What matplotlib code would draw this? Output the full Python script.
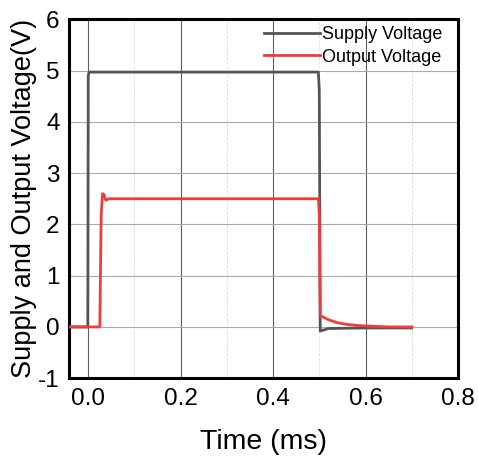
import matplotlib.pyplot as plt
from matplotlib.ticker import MultipleLocator

plt.rcParams['font.family'] = ['Liberation Sans', 'DejaVu Sans']
plt.rcParams['axes.unicode_minus'] = False

# breakpoints (time in ms, voltage in V)
supply_t = [-0.04, -0.001, 0.0, 0.002, 0.1, 0.2, 0.3, 0.4, 0.498, 0.5, 0.502, 0.52, 0.6, 0.7]
supply_v = [0.0, 0.0, 4.9, 4.97, 4.97, 4.97, 4.97, 4.97, 4.97, 4.6, -0.08, -0.03, -0.02, -0.02]

output_t = [-0.04, 0.025, 0.028, 0.031, 0.034, 0.038, 0.045, 0.1, 0.2, 0.3, 0.4, 0.498, 0.5, 0.502,
            0.52, 0.54, 0.56, 0.58, 0.6, 0.65, 0.7]
output_v = [0.0, 0.0, 2.2, 2.6, 2.58, 2.47, 2.5, 2.5, 2.5, 2.5, 2.5, 2.5, 2.2, 0.22,
            0.14, 0.08, 0.05, 0.03, 0.02, 0.0, 0.0]

fig, ax = plt.subplots(figsize=(4.78, 4.59), dpi=100)
fig.subplots_adjust(left=0.145, right=0.958, top=0.958, bottom=0.176)

ax.plot(supply_t, supply_v, color='#555555', lw=2, label='Supply Voltage', zorder=3)
ax.plot(output_t, output_v, color='#ef3b3b', lw=2, label='Output Voltage', zorder=4)

ax.set_xlim(-0.041, 0.8)
ax.set_ylim(-1, 6)
ax.xaxis.set_major_locator(MultipleLocator(0.2))
ax.xaxis.set_minor_locator(MultipleLocator(0.1))
ax.yaxis.set_major_locator(MultipleLocator(1))
ax.set_xticks([0.0, 0.2, 0.4, 0.6, 0.8])
ax.set_xticklabels(['0.0', '0.2', '0.4', '0.6', '0.8'])

ax.grid(axis='x', which='major', color='#606060', lw=0.8)
ax.grid(axis='x', which='minor', color='#dddddd', lw=0.6, ls='--')
ax.grid(axis='y', which='major', color='#aaaaaa', lw=0.8)
ax.tick_params(which='both', length=0, labelsize=17.5, pad=7)

for s in ax.spines.values():
    s.set_linewidth(2.2)
    s.set_color('black')

ax.set_xlabel('Time (ms)', fontsize=20.5, labelpad=14)
ax.set_ylabel('Supply and Output Voltage(V)', fontsize=19.5, labelpad=1)

ax.legend(loc='upper right', bbox_to_anchor=(0.975, 0.995), frameon=False,
          fontsize=13, handlelength=3.1, handletextpad=0.15, labelspacing=0.28,
          borderaxespad=0.0, borderpad=0.3)

fig.savefig('out.png')
